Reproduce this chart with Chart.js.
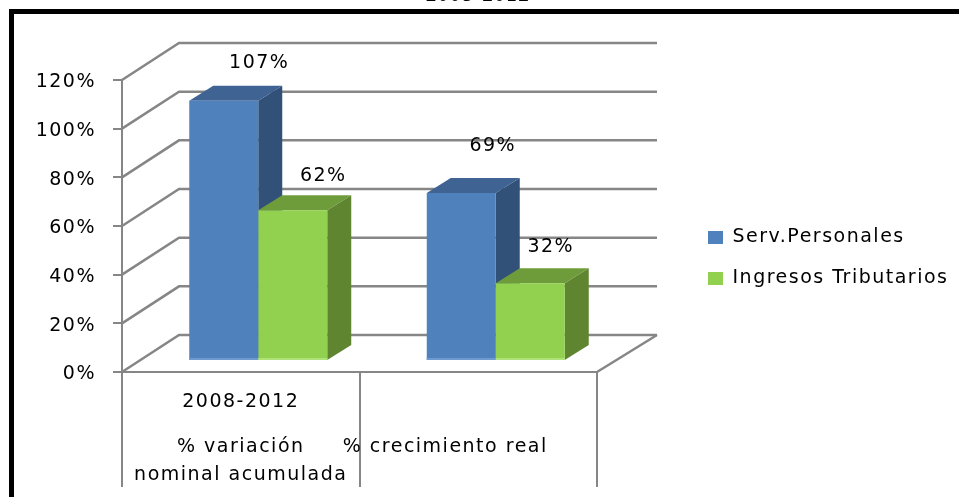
<!DOCTYPE html>
<html>
<head>
<meta charset="utf-8">
<title>Serv.Personales vs Ingresos Tributarios</title>
<script src="https://cdn.jsdelivr.net/npm/chart.js@4"></script>
<style>
    html, body { margin: 0; padding: 0; background: #fff; overflow: hidden; }
    canvas { display: block; }
</style>
</head>
<body>
<canvas id="chart" width="959" height="497"></canvas>
<script>
// Data
const categories = ['% variación nominal acumulada', '% crecimiento real'];
const servPersonales = [107, 69];
const ingresosTributarios = [62, 32];
const yTicks = [0, 20, 40, 60, 80, 100, 120];

const FONT = '"DejaVu Sans", sans-serif';
const FONT_SIZE = 19;
const GRID = '#868686';

// 3D look: wall depth, bar offset inside the floor, bar depth
const wall = { dx: 57, dxRight: 60, dy: -37 };
const shift = { dx: 17.5, dy: -11 };
const depth = { dx: 24, dy: -15 };

const faces = [
    { top: '#3f6392', side: '#325179', strip: '#6f9bd1' },
    { top: '#6f9c3b', side: '#5f8530', strip: '#aee37a' }
];

// Label nudges from the bar top (dataset, then category)
const labelNudge = [
    [[53, -38], [49, -47]],
    [[48, -34], [38, -36]]
];

function poly(ctx, pts, color) {
    ctx.fillStyle = color;
    ctx.beginPath();
    pts.forEach((p, i) => i ? ctx.lineTo(p[0], p[1]) : ctx.moveTo(p[0], p[1]));
    ctx.closePath();
    ctx.fill();
}

const box3d = {
    id: 'box3d',
    beforeLayout(chart) {
        // Legend keeps the strip right of the plot
        const legend = chart.legend;
        const fit = Object.getPrototypeOf(legend).fit;
        legend.fit = function () {
            fit.call(this);
            this.width = 362;
        };
    },
    afterLayout(chart) {
        const legend = chart.legend;
        legend.left = 686;
        legend.right = 959;
        legend.top = 206;
        legend.bottom = 497;
    },
    beforeDraw(chart) {
        const ctx = chart.ctx;
        ctx.letterSpacing = '1.5px';
        ctx.save();
        ctx.fillStyle = '#000';
        ctx.fillRect(9, 9, 950, 5);
        ctx.fillRect(9, 9, 5, 488);
        ctx.font = 'bold 21px "Liberation Serif"';
        ctx.textAlign = 'center';
        ctx.fillText('2008-2012', 478, 1);
        ctx.restore();
    },
    beforeDatasetsDraw(chart) {
        const { ctx, scales, chartArea } = chart;
        ctx.save();
        ctx.strokeStyle = GRID;
        ctx.lineWidth = 2.5;
        yTicks.forEach(v => {
            const y = scales.y.getPixelForValue(v);
            ctx.beginPath();
            ctx.moveTo(chartArea.left, y);
            ctx.lineTo(chartArea.left + wall.dx, y + wall.dy);
            ctx.lineTo(chartArea.right + wall.dxRight, y + wall.dy);
            ctx.stroke();
        });
        ctx.beginPath();
        ctx.moveTo(chartArea.right, chartArea.bottom);
        ctx.lineTo(chartArea.right + wall.dxRight, chartArea.bottom + wall.dy);
        ctx.stroke();
        ctx.restore();

        // Side and top faces first, blue then green, the fronts come on top
        ctx.save();
        ctx.translate(shift.dx, shift.dy);
        chart.data.datasets.forEach((ds, i) => {
            const f = faces[i];
            chart.getDatasetMeta(i).data.forEach(bar => {
                const l = bar.x - bar.width / 2;
                const r = bar.x + bar.width / 2;
                poly(ctx, [[l, bar.y], [l + depth.dx, bar.y + depth.dy], [r + depth.dx, bar.y + depth.dy], [r, bar.y]], f.top);
                poly(ctx, [[r, bar.y], [r + depth.dx, bar.y + depth.dy], [r + depth.dx, bar.base + depth.dy], [r, bar.base]], f.side);
            });
        });
    },
    afterDatasetsDraw(chart) {
        const { ctx, scales } = chart;
        chart.data.datasets.forEach((ds, i) => {
            chart.getDatasetMeta(i).data.forEach(bar => {
                ctx.fillStyle = faces[i].strip;
                ctx.fillRect(bar.x - bar.width / 2, bar.base - 2, bar.width, 2);
            });
        });
        ctx.restore();

        ctx.save();
        ctx.fillStyle = '#000';
        ctx.font = FONT_SIZE + 'px ' + FONT;
        ctx.textAlign = 'center';
        ctx.textBaseline = 'middle';
        chart.data.datasets.forEach((ds, i) => {
            chart.getDatasetMeta(i).data.forEach((bar, j) => {
                const n = labelNudge[i][j];
                ctx.fillText(ds.data[j] + '%', bar.x + n[0], bar.y + n[1] + shift.dy);
            });
        });

        // Category labels below the floor
        const x0 = scales.x.getPixelForValue(0);
        const x1 = scales.x.getPixelForValue(1);
        ctx.fillText('2008-2012', x0, 402);
        ctx.fillText('% variación', x0, 447);
        ctx.fillText('nominal acumulada', x0, 475);
        ctx.fillText(categories[1], x1 - 33, 447);
        ctx.restore();
    }
};

new Chart(document.getElementById('chart'), {
    type: 'bar',
    data: {
        labels: categories,
        datasets: [
            { label: 'Serv.Personales', data: servPersonales, backgroundColor: '#4f81bd' },
            { label: 'Ingresos Tributarios', data: ingresosTributarios, backgroundColor: '#92d050' }
        ]
    },
    options: {
        responsive: false,
        animation: false,
        layout: { padding: { top: 80 } },
        datasets: { bar: { categoryPercentage: 0.581, barPercentage: 1 } },
        plugins: {
            title: { display: false },
            tooltip: { enabled: false },
            legend: {
                position: 'right',
                align: 'start',
                labels: {
                    boxWidth: 15,
                    boxHeight: 13,
                    padding: 22,
                    color: '#000',
                    font: { family: FONT, size: FONT_SIZE }
                }
            }
        },
        scales: {
            x: {
                afterFit(scale) { scale.height = 125; },
                grid: { color: GRID, lineWidth: 2, drawOnChartArea: false, tickLength: 115 },
                border: { color: GRID, width: 2 },
                ticks: { display: false }
            },
            y: {
                min: 0,
                max: 120,
                afterFit(scale) { scale.width = 122; },
                afterBuildTicks(scale) { scale.ticks = yTicks.map(v => ({ value: v })); },
                grid: { color: GRID, lineWidth: 2, drawOnChartArea: false, tickLength: 9 },
                border: { color: GRID, width: 2 },
                ticks: {
                    padding: 17,
                    labelOffset: 2.5,
                    color: '#000',
                    font: { family: FONT, size: FONT_SIZE },
                    callback: v => v + '%'
                }
            }
        }
    },
    plugins: [box3d]
});
</script>
</body>
</html>
